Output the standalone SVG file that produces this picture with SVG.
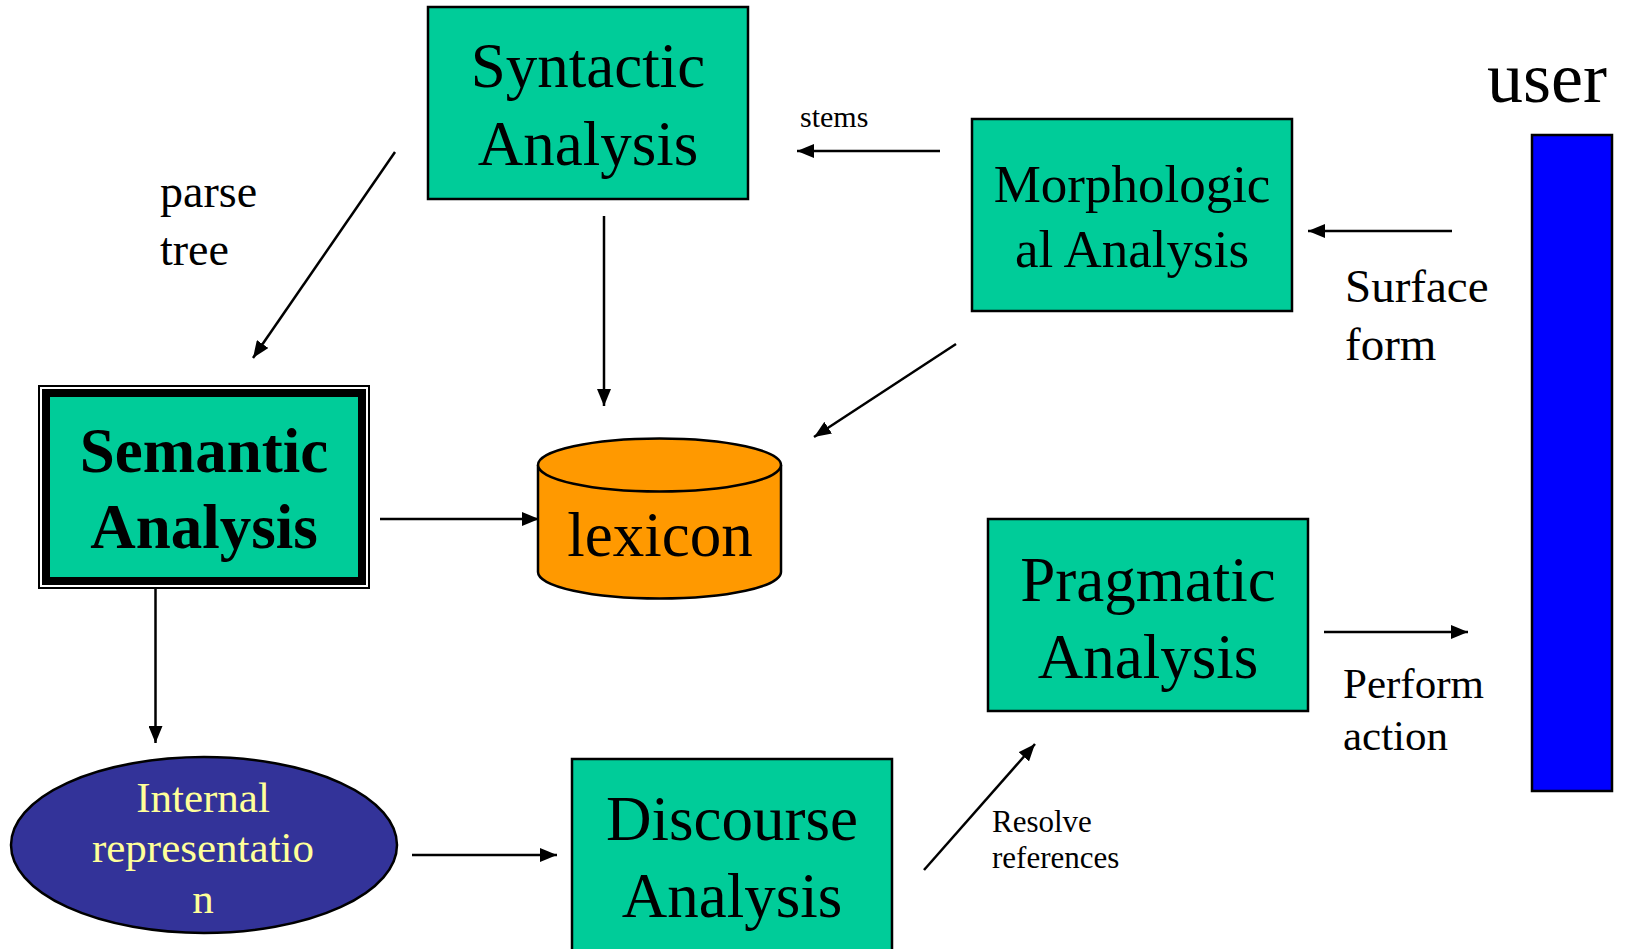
<svg xmlns="http://www.w3.org/2000/svg" width="1625" height="949" viewBox="0 0 1625 949">
<style>
.box{fill:#00CC99;stroke:#000;stroke-width:2.5}
.t{font-family:"Liberation Serif","Times New Roman",serif;fill:#000;text-anchor:middle}
.lbl{font-family:"Liberation Serif","Times New Roman",serif;fill:#000}
.it{font-family:"Liberation Serif","Times New Roman",serif;fill:#FFFF99;text-anchor:middle}
.c{stroke:#000;stroke-width:2.5;fill:none;marker-end:url(#ah)}
</style>
<defs>
<marker id="ah" markerUnits="userSpaceOnUse" markerWidth="18" markerHeight="14" refX="17" refY="7" orient="auto">
<path d="M0,0 L17,7 L0,14 z" fill="#000"/>
</marker>
</defs>
<rect width="1625" height="949" fill="#fff"/>
<g id="syntactic">
<rect class="box" x="428" y="7" width="320" height="192"/>
<text class="t" font-size="63" x="588" y="87">Syntactic</text>
<text class="t" font-size="63" x="588" y="165">Analysis</text>
</g>
<g id="morphological">
<rect class="box" x="972" y="119" width="320" height="192"/>
<text class="t" font-size="53" x="1132" y="202">Morphologic</text>
<text class="t" font-size="53" x="1132" y="267">al Analysis</text>
</g>
<g id="semantic">
<rect x="38" y="385" width="332" height="204" fill="#000"/>
<rect x="40" y="387" width="328" height="200" fill="#fff"/>
<rect x="42" y="389" width="324" height="196" fill="#000"/>
<rect x="50" y="397" width="308" height="180" fill="#00CC99"/>
<text class="t" font-size="63" font-weight="bold" x="204" y="472">Semantic</text>
<text class="t" font-size="63" font-weight="bold" x="204" y="548">Analysis</text>
</g>
<g id="lexicon">
<path d="M538,465 L538,572 A121.5,26.5 0 0 0 781,572 L781,465" fill="#FF9900" stroke="#000" stroke-width="2.5"/>
<ellipse cx="659.5" cy="465" rx="121.5" ry="26.5" fill="#FF9900" stroke="#000" stroke-width="2.5"/>
<text class="t" font-size="63" x="660" y="556">lexicon</text>
</g>
<g id="pragmatic">
<rect class="box" x="988" y="519" width="320" height="192"/>
<text class="t" font-size="63" x="1148" y="601">Pragmatic</text>
<text class="t" font-size="63" x="1148" y="678">Analysis</text>
</g>
<g id="internal">
<ellipse cx="204" cy="845" rx="193" ry="88" fill="#333399" stroke="#000" stroke-width="2.5"/>
<text class="it" font-size="43" x="203" y="812">Internal</text>
<text class="it" font-size="43" x="203" y="862">representatio</text>
<text class="it" font-size="43" x="203" y="913">n</text>
</g>
<g id="discourse">
<rect class="box" x="572" y="759" width="320" height="200"/>
<text class="t" font-size="63" x="732" y="840">Discourse</text>
<text class="t" font-size="63" x="732" y="917">Analysis</text>
</g>
<g id="user">
<text class="lbl" font-size="72" x="1487" y="102">user</text>
<rect x="1532" y="135" width="80" height="656" fill="#0000FF" stroke="#000" stroke-width="2.5"/>
</g>
<g id="connectors">
<line class="c" x1="395" y1="152" x2="253" y2="358"/>
<line class="c" x1="604" y1="216" x2="604" y2="406"/>
<line class="c" x1="940" y1="151" x2="797" y2="151"/>
<line class="c" x1="956" y1="344" x2="814" y2="437"/>
<line class="c" x1="1452" y1="231" x2="1308" y2="231"/>
<line class="c" x1="380" y1="519" x2="539" y2="519"/>
<line class="c" x1="155.5" y1="588" x2="155.5" y2="743"/>
<line class="c" x1="412" y1="855" x2="557" y2="855"/>
<line class="c" x1="924" y1="870" x2="1035" y2="744"/>
<line class="c" x1="1324" y1="632" x2="1468" y2="632"/>
</g>
<g id="labels">
<text class="lbl" font-size="46" x="160" y="207">parse</text>
<text class="lbl" font-size="46" x="160" y="265">tree</text>
<text class="lbl" font-size="30" x="800" y="127">stems</text>
<text class="lbl" font-size="47" x="1345" y="302">Surface</text>
<text class="lbl" font-size="47" x="1345" y="360">form</text>
<text class="lbl" font-size="43" x="1343" y="698">Perform</text>
<text class="lbl" font-size="43" x="1343" y="750">action</text>
<text class="lbl" font-size="31" x="992" y="832">Resolve</text>
<text class="lbl" font-size="31" x="992" y="868">references</text>
</g>
</svg>
